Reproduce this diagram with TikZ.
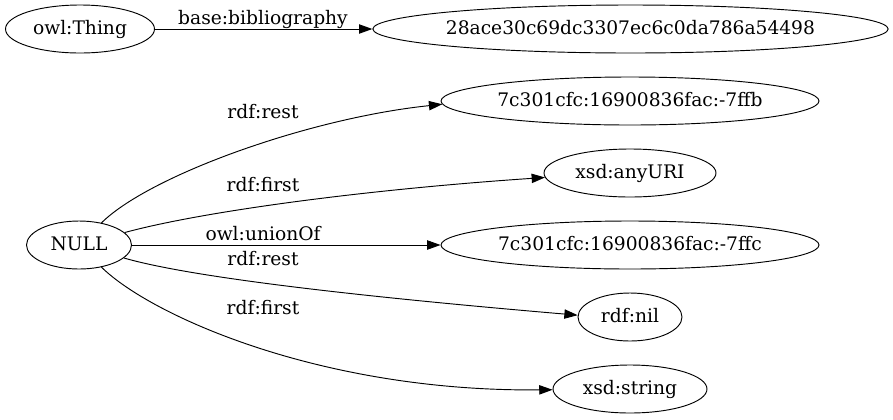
\documentclass[tikz,border=0pt]{standalone}
\usepackage{fontspec}
\setmainfont{DejaVu Serif}
\usetikzlibrary{shapes,arrows.meta}
\tikzset{
  res/.style={ellipse, draw, line width=0.7pt, minimum height=36pt, inner xsep=-30pt, inner ysep=0pt, text height=9.3pt, text depth=0.7pt},
  lbl/.style={anchor=base, inner sep=0pt},
  rel/.style={line width=0.7pt, -{Triangle[length=10pt,width=7pt]}}
}
\begin{document}
\begin{tikzpicture}[x=0.75pt, y=-0.75pt, font=\fontsize{14}{17}\selectfont]
\useasboundingbox (0,0) rectangle (893,419);
\node[res, minimum width=111.75pt] (thing) at (80,29) {owl:Thing};
\node[res, minimum width=386.5pt] (bib) at (630.5,29) {28ace30c69dc3307ec6c0da786a54498};
\node[res, minimum width=78.75pt] (null) at (79,245) {NULL};
\node[res, minimum width=283.5pt] (ffb) at (630,101) {7c301cfc:16900836fac:-7ffb};
\node[res, minimum width=129pt] (uri) at (630,173) {xsd:anyURI};
\node[res, minimum width=283.5pt] (ffc) at (630,245) {7c301cfc:16900836fac:-7ffc};
\node[res, minimum width=78pt] (nil) at (630,317) {rdf:nil};
\node[res, minimum width=115.5pt] (str) at (630,389) {xsd:string};
\node[lbl] (lbib) at (263,24) {base:bibliography};
\node[lbl] (lrest1) at (263,118) {rdf:rest};
\node[lbl] (lfirst1) at (263,191.5) {rdf:first};
\node[lbl] (lunion) at (263,240) {owl:unionOf};
\node[lbl] (lrest2) at (263,265.5) {rdf:rest};
\node[lbl] (lfirst2) at (263,314) {rdf:first};
\draw[rel] (thing) -- (bib);
\draw[rel] (null) .. controls (150,175) and (310,118) .. (ffb.181);
\draw[rel] (null) .. controls (200,212) and (360,190) .. (uri.183);
\draw[rel] (null) -- (ffc);
\draw[rel] (null) .. controls (200,280) and (400,300) .. (nil.178);
\draw[rel] (null) .. controls (150,315) and (320,392) .. (str);
\end{tikzpicture}
\end{document}
